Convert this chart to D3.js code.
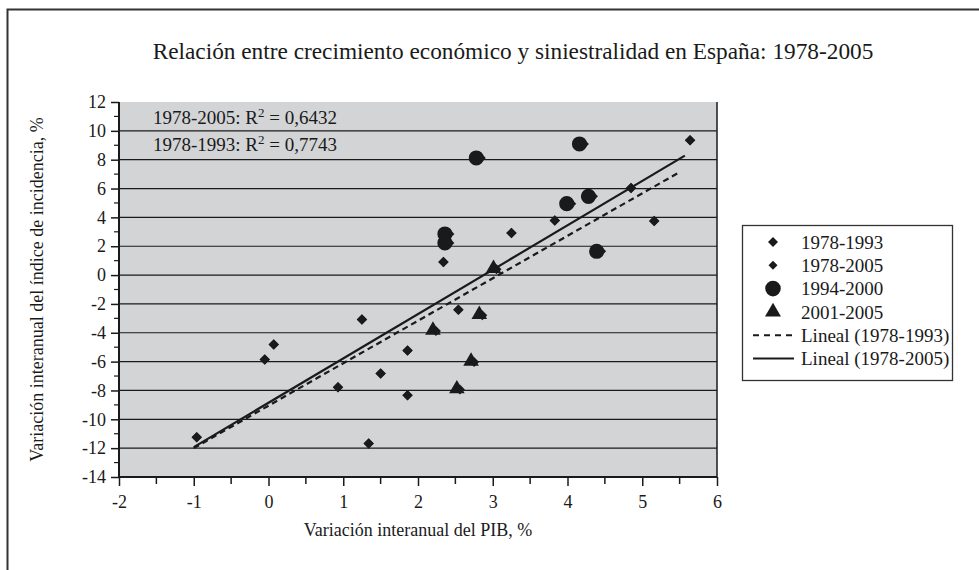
<!DOCTYPE html>
<html><head><meta charset="utf-8">
<script src="https://cdn.jsdelivr.net/npm/d3@7"></script>
<style>body{margin:0;background:#fff} svg{display:block} svg text{font-family:"Liberation Serif","Times New Roman",serif !important}</style>
</head><body><svg id="c" width="979" height="570"></svg>
<script>
const titleText = "Relación entre crecimiento económico y siniestralidad en España: 1978-2005";
const xTitle = "Variación interanual del PIB, %";
const yTitle = "Variación interanual del índice de incidencia, %";
const xDomain = [-2, 6];
const yDomain = [-14, 12];
const xTicks = [-2, -1, 0, 1, 2, 3, 4, 5, 6];
const yTicks = [-14, -12, -10, -8, -6, -4, -2, 0, 2, 4, 6, 8, 10, 12];
const legendLabels = ["1978-1993", "1978-2005", "1994-2000", "2001-2005", "Lineal (1978-1993)", "Lineal (1978-2005)"];
const r2Labels = [["1978-2005: R", "2", " = 0,6432"], ["1978-1993: R", "2", " = 0,7743"]];

// 1978-1993 (diamonds)
const s7893 = [[-0.96,-11.24],[-0.05,-5.86],[0.07,-4.82],[0.93,-7.77],[1.25,-3.08],[1.34,-11.68],
  [1.50,-6.83],[1.86,-5.23],[1.86,-8.33],[2.34,0.91],[2.54,-2.40],[3.25,2.92],[3.83,3.78],
  [4.85,6.04],[5.16,3.75],[5.64,9.34]];
// 1994-2000 (circles)
const s9400 = [[2.36,2.85],[2.36,2.23],[2.78,8.12],[3.99,4.95],[4.16,9.09],[4.28,5.46],[4.39,1.65]];
// 2001-2005 (triangles)
const s0105 = [[3.01,0.45],[2.82,-2.73],[2.20,-3.82],[2.71,-5.97],[2.52,-7.89]];
// 1978-2005 (all years)
const s7805 = [[-0.96,-11.24],[-0.05,-5.86],[0.07,-4.82],[0.93,-7.77],[1.25,-3.08],[1.34,-11.68],
  [1.50,-6.83],[1.86,-5.23],[1.86,-8.33],[2.34,0.91],[2.54,-2.40],[3.25,2.92],[3.83,3.78],
  [4.85,6.04],[5.16,3.75],[5.64,9.34],
  [2.42,2.85],[2.42,2.23],[2.84,8.12],[4.05,4.95],[4.22,9.09],[4.34,5.46],[4.45,1.65],
  [3.05,0.40],[2.86,-2.78],[2.24,-3.87],[2.75,-6.02],[2.56,-7.94]];
// linear trends (endpoints)
const trend7893 = [[-1.00,-12.00],[5.48,7.08]];
const trend7805 = [[-1.00,-11.93],[5.57,8.28]];

const svg = d3.select("#c");
const L = 119, R = 717, T = 102, B = 477;
const x = d3.scaleLinear().domain(xDomain).range([L, R]);
const y = d3.scaleLinear().domain(yDomain).range([B, T]);
const ink = "#1a1a1a";

// outer frame
svg.append("path").attr("d", "M7.5,575V9.5H985").attr("fill", "none").attr("stroke", "#333").attr("stroke-width", 2);

// title
svg.append("text").attr("x", 513).attr("y", 59).attr("text-anchor", "middle")
  .attr("font-size", 23.3).attr("fill", ink).text(titleText);

// plot background
svg.append("rect").attr("x", L).attr("y", T).attr("width", R - L).attr("height", B - T).attr("fill", "#d3d4d6");

// gridlines
svg.append("g").selectAll("line").data(yTicks.filter(v => v > yDomain[0] && v < yDomain[1]))
  .join("line").attr("x1", L).attr("x2", R).attr("y1", d => y(d)).attr("y2", d => y(d))
  .attr("stroke", ink).attr("stroke-width", 1.2);
svg.append("line").attr("x1", R).attr("x2", R).attr("y1", T).attr("y2", B).attr("stroke", ink).attr("stroke-width", 1.5);

// axes
const fmt = d => String(d);
const xAxis = d3.axisBottom(x).tickValues(xTicks).tickSize(9).tickFormat(fmt);
const gx = svg.append("g").attr("transform", `translate(0,${B})`).call(xAxis);
const xMinor = d3.range(-1.5, 6, 1);
gx.selectAll(".minor").data(xMinor).join("line").attr("class", "minor")
  .attr("x1", d => x(d)).attr("x2", d => x(d)).attr("y1", 0).attr("y2", 7).attr("stroke", ink).attr("stroke-width", 1.5);
const yAxis = d3.axisLeft(y).tickValues(yTicks).tickSize(8).tickFormat(fmt);
const gy = svg.append("g").attr("transform", `translate(${L},0)`).call(yAxis);
const yMinor = d3.range(-13, 12, 2);
gy.selectAll(".minor").data(yMinor).join("line").attr("class", "minor")
  .attr("x1", -5).attr("x2", 0).attr("y1", d => y(d)).attr("y2", d => y(d)).attr("stroke", ink).attr("stroke-width", 1.2);
[gx, gy].forEach(g => {
  g.attr("font-family", null);
  g.select(".domain").attr("stroke", ink).attr("stroke-width", 2);
  g.selectAll(".tick line").attr("stroke", ink).attr("stroke-width", 1.5);
  g.selectAll(".tick text").attr("font-size", 18).attr("fill", ink);
});
gx.select(".domain").attr("d", `M${L},0H${R}`);
gy.select(".domain").attr("d", `M0,${T}V${B}`);
gx.selectAll(".tick text").attr("dy", "1.05em");
gy.selectAll(".tick text").attr("dx", "-2");

// axis titles
svg.append("text").attr("x", (L + R) / 2).attr("y", 536).attr("text-anchor", "middle")
  .attr("font-size", 18).attr("fill", ink).text(xTitle);
svg.append("text").attr("transform", `translate(43,${(T + B) / 2}) rotate(-90)`).attr("text-anchor", "middle")
  .attr("font-size", 18).attr("fill", ink).text(yTitle);

// R2 annotations
r2Labels.forEach((p, i) => {
  const t = svg.append("text").attr("x", 153).attr("y", 124 + i * 27).attr("font-size", 19).attr("fill", ink);
  t.append("tspan").text(p[0]);
  t.append("tspan").attr("dy", -7).attr("font-size", 13).text(p[1]);
  t.append("tspan").attr("dy", 7).text(p[2]);
});

// trend lines
const line = d3.line().x(d => x(d[0])).y(d => y(d[1]));
svg.append("path").datum(trend7893).attr("d", line).attr("fill", "none").attr("stroke", ink)
  .attr("stroke-width", 2.2).attr("stroke-dasharray", "6,4");
svg.append("path").datum(trend7805).attr("d", line).attr("fill", "none").attr("stroke", ink).attr("stroke-width", 2.2);

// markers
function plot(data, type, size, rot) {
  svg.append("g").selectAll("path").data(data).join("path")
    .attr("transform", d => `translate(${x(d[0])},${y(d[1])}) rotate(${rot})`)
    .attr("d", d3.symbol().type(type).size(size)()).attr("fill", ink);
}
plot(s7805, d3.symbolSquare, 50, 45);
plot(s7893, d3.symbolSquare, 55, 45);
plot(s9400, d3.symbolCircle, 180, 0);
plot(s0105, d3.symbolTriangle, 105, 0);

// legend
const lg = svg.append("g");
lg.append("rect").attr("x", 742.5).attr("y", 225.5).attr("width", 210).attr("height", 155)
  .attr("fill", "#fff").attr("stroke", "#333").attr("stroke-width", 1.3);
const legendSym = [[d3.symbolSquare, 50, 45], [d3.symbolSquare, 40, 45], [d3.symbolCircle, 190, 0], [d3.symbolTriangle, 110, 0], null, null];
legendLabels.forEach((lab, i) => {
  const cy = 242 + i * 23.3;
  if (legendSym[i]) {
    lg.append("path").attr("transform", `translate(773,${cy}) rotate(${legendSym[i][2]})`)
      .attr("d", d3.symbol().type(legendSym[i][0]).size(legendSym[i][1])()).attr("fill", ink);
  } else {
    lg.append("line").attr("x1", 753).attr("x2", 794).attr("y1", cy).attr("y2", cy).attr("stroke", ink)
      .attr("stroke-width", 2).attr("stroke-dasharray", i === 4 ? "6,5" : null);
  }
  lg.append("text").attr("x", 801).attr("y", cy).attr("dy", "0.35em").attr("font-size", 19).attr("fill", ink).text(lab);
});
</script></body></html>
